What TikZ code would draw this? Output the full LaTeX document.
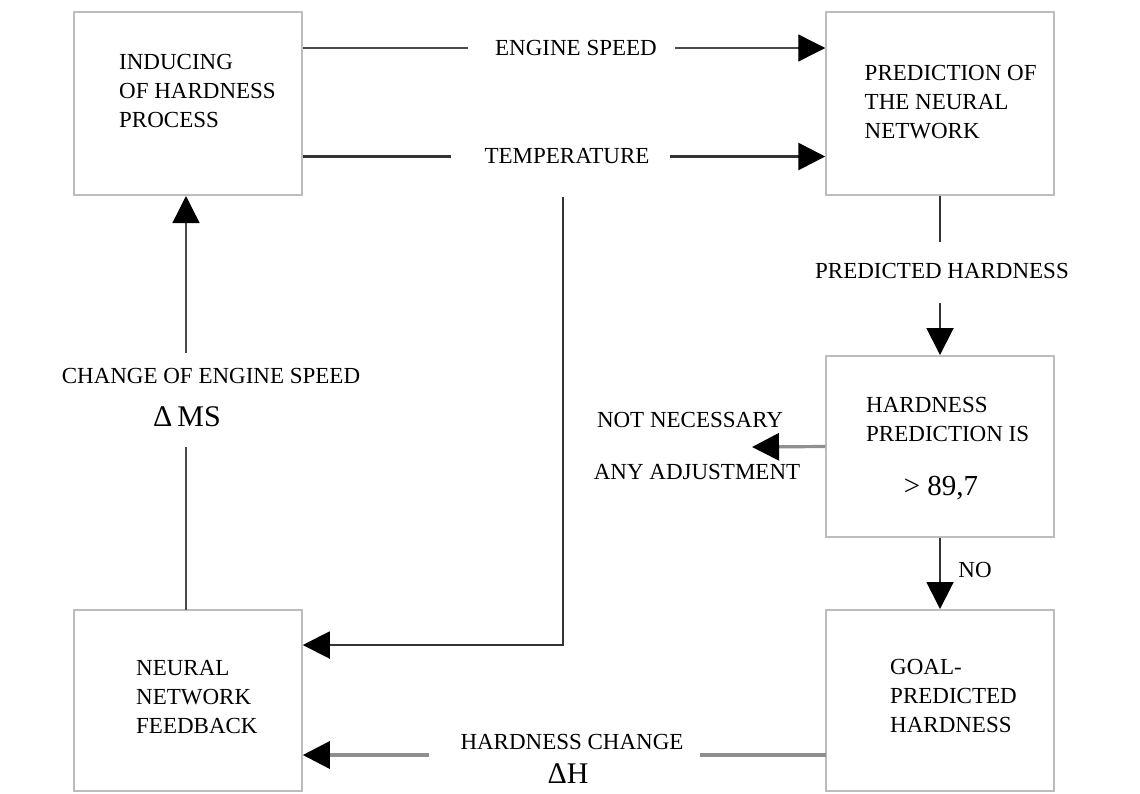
\documentclass[tikz,border=0pt]{standalone}
\usepackage{fontspec}
\setmainfont{Liberation Serif}
\usetikzlibrary{arrows.meta}
\definecolor{boxgray}{HTML}{BDBDBD}
\definecolor{linegray}{HTML}{4A4A4A}
\definecolor{darkline}{HTML}{333333}
\definecolor{palegray}{HTML}{8F8F8F}
\begin{document}
\begin{tikzpicture}[x=1pt,y=-1pt,
  box/.style={draw=boxgray, line width=2pt, minimum width=227.5pt, minimum height=183pt, inner sep=0pt},
  lbl/.style={inner sep=0pt, font=\fontsize{23}{29}\selectfont},
  biglbl/.style={inner sep=0pt, font=\fontsize{30}{34}\selectfont},
  btxt/.style={inner sep=0pt, anchor=north west, align=left, font=\fontsize{23}{29}\selectfont},
  tip/.style={-{Triangle[length=27pt,width=27pt,color=black]}},
  thinline/.style={draw=linegray, line width=1.4pt},
  midline/.style={draw=darkline, line width=2pt},
  heavyline/.style={draw=darkline, line width=2.8pt},
  paleline/.style={draw=palegray, line width=3.2pt},
]
\useasboundingbox[fill=white] (0,0) rectangle (1140,793);

% process blocks
\node[box] (b1) at (188,103.5) {};
\node[box] (b2) at (940,103.5) {};
\node[box, minimum height=181pt] (b3) at (940,446.5) {};
\node[box, minimum height=181pt] (b4) at (940,700.5) {};
\node[box, minimum height=181pt] (b5) at (188,700.5) {};

% block texts
\node[btxt] (t1) at (119,54.5) {INDUCING\\OF HARDNESS\\PROCESS};
\node[btxt] (t2) at (864.5,65.5) {PREDICTION OF\\THE NEURAL\\NETWORK};
\node[btxt] (t3) at (866,397.5) {HARDNESS\\PREDICTION IS};
\node[inner sep=0pt, font=\fontsize{29}{34}\selectfont] (t3b) at (941,488) {> 89,7};
\node[btxt] (t4) at (890,659.5) {GOAL-\\PREDICTED\\HARDNESS};
\node[btxt] (t5) at (136,660.5) {NEURAL\\NETWORK\\FEEDBACK};

% signal labels
\node[lbl] (es) at (576,48) {ENGINE SPEED};
\node[lbl] (tp) at (567,156.5) {TEMPERATURE};
\node[lbl] (ph) at (942,271) {PREDICTED HARDNESS};
\node[lbl] (nn1) at (690,420) {NOT NECESSARY};
\node[lbl] (nn2) at (697,472) {ANY ADJUSTMENT};
\node[lbl] (no) at (975,570) {NO};
\node[lbl] (hc) at (572,741.5) {HARDNESS CHANGE};
\node[biglbl] (dh) at (568,774) {ΔH};
\node[lbl] (ce) at (211,376) {CHANGE OF ENGINE SPEED};
\node[biglbl] (dms) at (187,416.5) {Δ\,MS};

% engine speed
\draw[thinline, shorten >=27pt] (b1.east |- es) -- (es.west);
\draw[thinline, tip, shorten <=18pt] (es.east) -- (b2.west |- es);

% temperature
\draw[heavyline, shorten >=33pt] (b1.east |- tp) -- (tp.west);
\draw[heavyline, tip, shorten <=20pt] (tp.east) -- (b2.west |- tp);
\coordinate (tv) at (563,197);
\coordinate (tfb) at (563,645);
\draw[midline, tip] (tv) -- (tfb) -- (b5.east |- tfb);

% predicted hardness
\draw[midline, shorten >=21.5pt] (b2.south) -- (b2.south |- ph.north);
\draw[midline, tip, shorten <=24.5pt] (b2.south |- ph.south) -- (b3.north);

% no adjustment needed
\coordinate (na) at (752,447);
\draw[paleline, tip] (b3.west) -- (na);

% decision: no
\draw[midline, tip] (b3.south) -- (b4.north);

% hardness change
\coordinate (hl) at (826,755);
\draw[paleline, shorten >=16pt] (hl) -- (hc.east |- hl);
\draw[paleline, tip, shorten <=31pt] (hc.west |- hl) -- (b5.east |- hl);

% change of engine speed
\coordinate (vs) at (186,610);
\draw[thinline, shorten >=20pt] (vs) -- (vs |- dms.south);
\draw[thinline, tip, shorten <=15.5pt] (vs |- ce.north) -- (vs |- b1.south);
\end{tikzpicture}
\end{document}
